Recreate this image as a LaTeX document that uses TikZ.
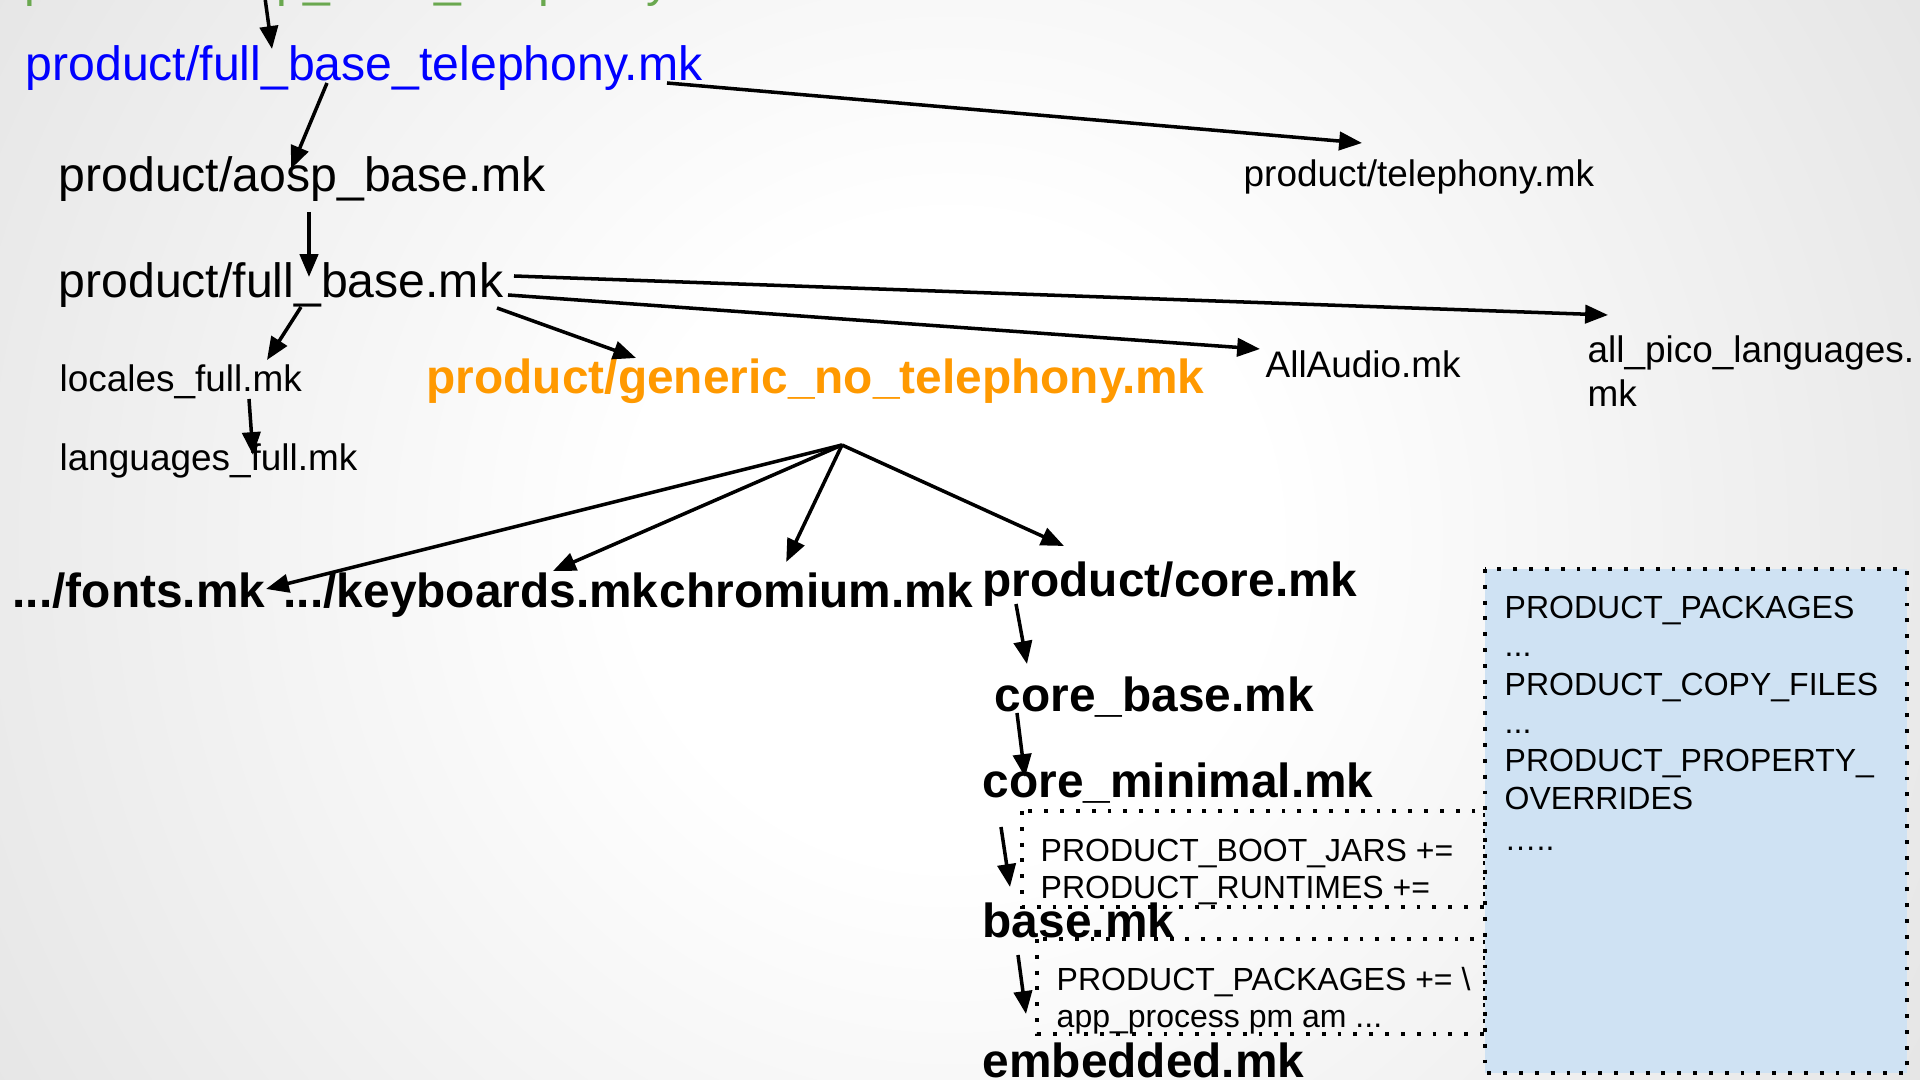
\documentclass[tikz,border=0pt]{standalone}
\usepackage{fontspec}
\setmainfont{Liberation Sans}
\usetikzlibrary{arrows.meta}

\definecolor{mkblue}{HTML}{0000FF}
\definecolor{mkorange}{HTML}{FF9900}
\definecolor{mkgreen}{HTML}{6AA84F}
\definecolor{varfill}{HTML}{CFE2F3}

% light slide background, white in the middle
\pgfdeclareradialshading{slidebg}{\pgfpoint{0bp}{0bp}}{color(0bp)=(white); color(8bp)=(white); color(50bp)=(black!21); color(72bp)=(black!27)}

\tikzset{
  mk/.style={anchor=base west, inner sep=0pt, font=\fontsize{13.7}{16}\selectfont},
  mkb/.style={mk, font=\fontsize{13.6}{16}\selectfont\bfseries},
  mksmall/.style={anchor=base west, inner sep=0pt, font=\fontsize{10.5}{12}\selectfont},
  var/.style={anchor=base west, inner sep=0pt, font=\fontsize{9.1}{11}\selectfont},
  inc/.style={line width=1pt, -{Triangle[length=6.5pt,width=5.2pt]}},
  dotbox/.style={line width=1.1pt, dash pattern=on 1.1pt off 3.4pt},
}

\begin{document}
\begin{tikzpicture}[x=0.01cm, y=-0.01cm]
  \useasboundingbox (0,0) rectangle (1920,1080);
  \begin{scope}
    \clip (0,0) rectangle (1920,1080);
    \shade [shading=slidebg] (-50,-460) rectangle (1950,1540);
  \end{scope}

  % variable boxes
  \draw [dotbox] (1022,811) rectangle (1485,907);
  \draw [dotbox] (1037,939) rectangle (1485,1034);
  \filldraw [dotbox, fill=varfill] (1485,569) rectangle (1907,1073);

  % makefiles
  \node [mk, text=mkgreen] (aospbt) at (24,-3) {product/aosp\_base\_telephony.mk};
  \node [mk, text=mkblue] (fbtel) at (25,81) {product/full\_base\_telephony.mk};
  \node [mk] (aospbase) at (58,192) {product/aosp\_base.mk};
  \node [mk] (fullbase) at (58,298) {product/full\_base.mk};
  \node [mksmall] (locales) at (59,392) {locales\_full.mk};
  \node [mksmall] (languages) at (59,471) {languages\_full.mk};
  \node [mkb, text=mkorange] (generic) at (426,394) {product/generic\_no\_telephony.mk};
  \node [mksmall] (telephony) at (1243,187) {product/telephony.mk};
  \node [mksmall] (allaudio) at (1265,378) {AllAudio.mk};
  \node [mksmall] (pico) at (1587,363) {all\_pico\_languages.};
  \node [mksmall] (picomk) at (1587,407) {mk};

  \node [mkb] (fonts) at (12,608) {.../fonts.mk};
  \node [mkb] (keyboards) at (283,608) {.../keyboards.mk};
  \node [mkb] (chromium) at (keyboards.base east) {chromium.mk};
  \node [mkb] (core) at (982,597) {product/core.mk};
  \node [mkb] (corebase) at (994,712) {core\_base.mk};
  \node [mkb] (coremin) at (982,798) {core\_minimal.mk};
  \node [mkb] (base) at (982,938) {base.mk};
  \node [mkb] (embedded) at (982,1078) {embedded.mk};

  % what gets set on the way down
  \node [var] (bootjars) at (1040,862) {PRODUCT\_BOOT\_JARS +=};
  \node [var] (runtimes) at (1040,899) {PRODUCT\_RUNTIMES +=};
  \node [var] (pkgadd) at (1056,991) {PRODUCT\_PACKAGES += \textbackslash};
  \node [var] (appproc) at (1056,1028) {app\_process pm am ...};

  \node [var] (vpkg) at (1504,619) {PRODUCT\_PACKAGES};
  \node [var] (vdots1) at (1504,657) {...};
  \node [var] (vcopy) at (1504,696) {PRODUCT\_COPY\_FILES};
  \node [var] (vdots2) at (1504,734) {...};
  \node [var] (vprop) at (1504,772) {PRODUCT\_PROPERTY\_};
  \node [var] (vover) at (1504,810) {OVERRIDES};
  \node [var] (vmore) at (1504,851) {…..};

  % inherit-product arrows
  \draw [inc] ([shift={(241,1)}]aospbt.base west) -- ([shift={(247,-32)}]fbtel.base west);
  \draw [inc] ([shift={(302,2)}]fbtel.base west) -- ([shift={(233,-23)}]aospbase.base west);
  \draw [inc] ([shift={(642,2)}]fbtel.base west) -- ([shift={(119,-44)}]telephony.base west);
  \draw [inc] ([shift={(251,20)}]aospbase.base west) -- ([shift={(251,-21)}]fullbase.base west);
  \draw [inc] ([shift={(243,9)}]fullbase.base west) -- ([shift={(208,-32)}]locales.base west);
  \draw [inc] ([shift={(190,7)}]locales.base west) -- ([shift={(194,-16)}]languages.base west);
  \draw [inc] ([shift={(439,10)}]fullbase.base west) -- ([shift={(210,-36)}]generic.base west);
  \draw [inc] ([shift={(450,-3)}]fullbase.base west) -- ([shift={(-5,-29)}]allaudio.base west);
  \draw [inc] ([shift={(456,-22)}]fullbase.base west) -- ([shift={(21,-48)}]pico.base west);

  \coordinate (hub) at ([shift={(416,51)}]generic.base west);
  \draw [inc] (hub) -- ([shift={(254,-19)}]fonts.base west);
  \draw [inc] (hub) -- ([shift={(270,-37)}]keyboards.base west);
  \draw [inc] (hub) -- ([shift={(127,-46)}]chromium.base west);
  \draw [inc] (hub) -- ([shift={(82,-51)}]core.base west);

  \draw [inc] ([shift={(34,7)}]core.base west) -- ([shift={(33,-48)}]corebase.base west);
  \draw [inc] ([shift={(23,1)}]corebase.base west) -- ([shift={(43,-21)}]coremin.base west);
  \draw [inc] ([shift={(19,29)}]coremin.base west) -- ([shift={(28,-51)}]base.base west);
  \draw [inc] ([shift={(36,17)}]base.base west) -- ([shift={(44,-64)}]embedded.base west);
\end{tikzpicture}
\end{document}
